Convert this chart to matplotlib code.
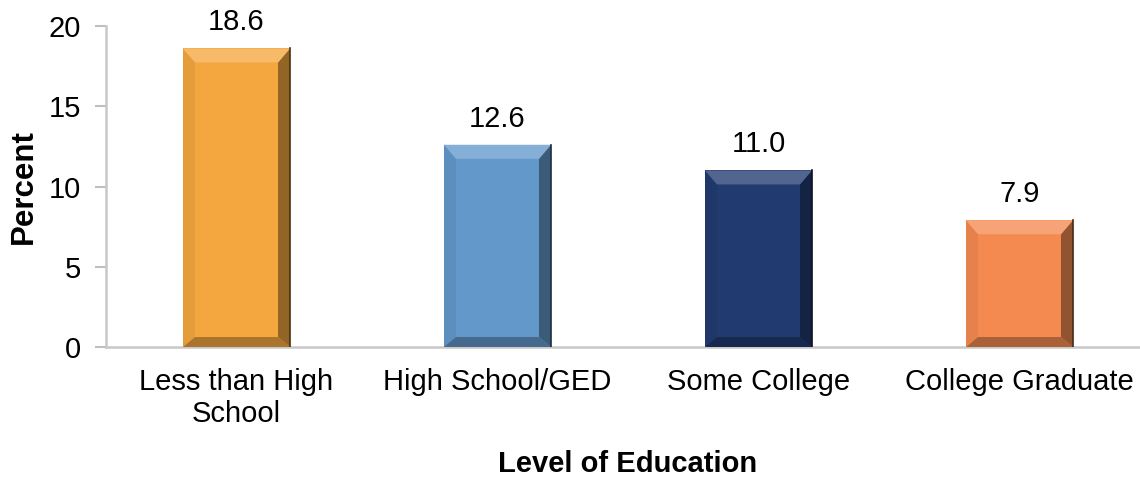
import matplotlib
matplotlib.use("Agg")
import matplotlib.pyplot as plt
from matplotlib.colors import to_rgb
from matplotlib.patches import Polygon

plt.rcParams["font.family"] = ["Liberation Sans", "DejaVu Sans"]

categories = ["Less than High\nSchool", "High School/GED", "Some College", "College Graduate"]
values = [18.6, 12.6, 11.0, 7.9]
colors = ["#F4A63F", "#6398CA", "#213A70", "#F48A50"]
y_ticks = [0, 5, 10, 15, 20]


def shade(color, f):
    r, g, b = to_rgb(color)
    if f >= 0:
        return (r + (1 - r) * f, g + (1 - g) * f, b + (1 - b) * f)
    return (r * (1 + f), g * (1 + f), b * (1 + f))


W, H = 1140, 479
fig = plt.figure(figsize=(W / 100, H / 100), dpi=100)
ax = fig.add_axes([106 / W, 1 - 347 / H, 1044 / W, 321 / H])

xlim = (-0.5, 3.5)
ylim = (0, 20)
ax.set_xlim(*xlim)
ax.set_ylim(*ylim)

bar_w = 0.41
xs = list(range(len(categories)))
bars = ax.bar(xs, values, width=bar_w, color=colors, edgecolor="none", zorder=2)

# bevel in pixel units converted to data units
px_x = (xlim[1] - xlim[0]) / 1044
px_y = (ylim[1] - ylim[0]) / 321
bx, by_top, by_bot = 12 * px_x, 14 * px_y, 10 * px_y
for rect, c in zip(bars, colors):
    x0 = rect.get_x()
    x1 = x0 + rect.get_width()
    y1 = rect.get_height()
    y0 = 0
    top = [(x0, y1), (x1, y1), (x1 - bx, y1 - by_top), (x0 + bx, y1 - by_top)]
    bottom = [(x0, y0), (x1, y0), (x1 - bx, y0 + by_bot), (x0 + bx, y0 + by_bot)]
    left = [(x0, y0), (x0, y1), (x0 + bx, y1 - by_top), (x0 + bx, y0 + by_bot)]
    right = [(x1, y0), (x1, y1), (x1 - bx, y1 - by_top), (x1 - bx, y0 + by_bot)]
    ax.add_patch(Polygon(left, closed=True, color=shade(c, -0.06), lw=0, zorder=3))
    ax.add_patch(Polygon(right, closed=True, color=shade(c, -0.4), lw=0, zorder=3))
    ax.add_patch(Polygon(bottom, closed=True, color=shade(c, -0.3), lw=0, zorder=3))
    ax.add_patch(Polygon(top, closed=True, color=shade(c, 0.22), lw=0, zorder=3))
    ax.plot([x1, x1], [y0, y1], color=shade(c, -0.7), lw=1.2, zorder=4)
    ax.text(rect.get_x() + rect.get_width() / 2, y1 + 0.75, f"{y1:.1f}",
            ha="center", va="bottom", fontsize=21, color="black")

ax.set_xticks(xs)
ax.set_xticklabels(categories, fontsize=21, linespacing=1.2)
ax.set_yticks(y_ticks)
ax.tick_params(axis="y", labelsize=21, length=8, width=1.5, color="#BFBFBF", pad=10)
ax.tick_params(axis="x", length=0, pad=15)

for s in ["top", "right"]:
    ax.spines[s].set_visible(False)
for s in ["left", "bottom"]:
    ax.spines[s].set_color("#C8C8C8")
    ax.spines[s].set_linewidth(1.8)

ax.set_ylabel("Percent", fontsize=22.5, fontweight="bold", labelpad=7)
ax.set_xlabel("Level of Education", fontsize=21, fontweight="bold", labelpad=16)

fig.savefig("out.png", dpi=100)
